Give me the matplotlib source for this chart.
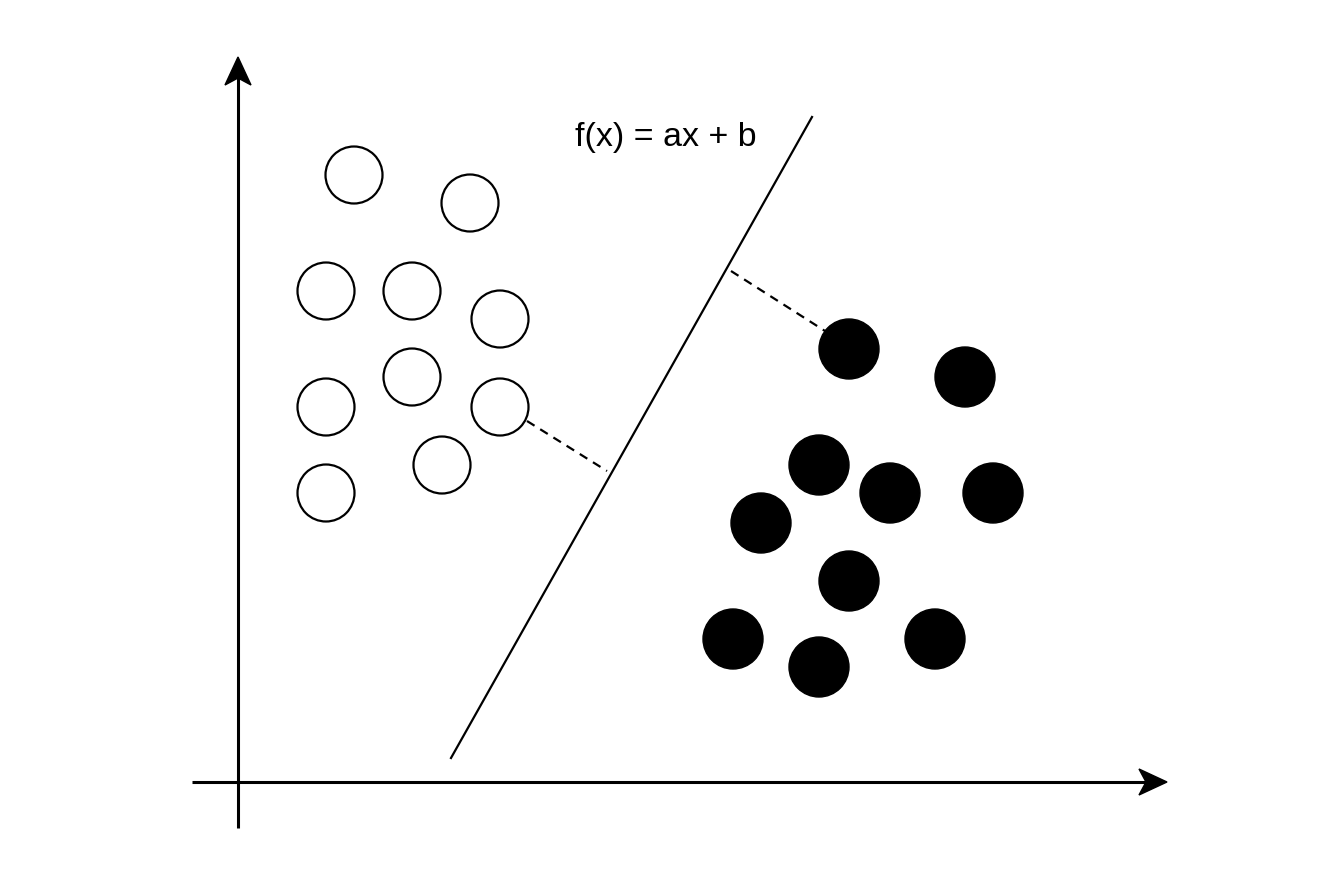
import matplotlib.pyplot as plt
from matplotlib.patches import Circle, Polygon
import numpy as np

# diagram coordinates (pixel-like, y grows downward)
open_x = [354, 470, 326, 412, 500, 412, 326, 500, 442, 326]
open_y = [175, 203, 291, 291, 319, 377, 407, 407, 465, 493]

filled_x = [849, 965, 819, 890, 993, 761, 849, 733, 935, 819]
filled_y = [349, 377, 465, 493, 493, 523, 581, 639, 639, 667]

# separating line f(x) = ax + b
line_x = [451, 812]
line_y = [758, 117]

# distances from the closest points to the line
dash_x = [[527, 607], [731, 825]]
dash_y = [[421, 471], [271, 331]]

label = "f(x) = ax + b"

W, H = 1318, 886


def arrow_head(ax, tip, direction, length=28, half_width=13, notch=7):
    d = np.array(direction, dtype=float)
    d /= np.linalg.norm(d)
    n = np.array([-d[1], d[0]])
    tip = np.array(tip, dtype=float)
    base = tip - d * length
    pts = [tip, base + n * half_width, tip - d * (length - notch), base - n * half_width]
    ax.add_patch(Polygon(pts, closed=True, facecolor="black", edgecolor="black", lw=1, zorder=5))


fig = plt.figure(figsize=(W / 100, H / 100), dpi=100)
ax = fig.add_axes([0, 0, 1, 1])
ax.set_xlim(0, W)
ax.set_ylim(H, 0)
ax.set_aspect("equal")
ax.axis("off")

# axes of the diagram
ax.plot([238, 238], [828, 75], color="black", lw=2.2, solid_capstyle="butt")
arrow_head(ax, (238, 57), (0, -1))
ax.plot([192, 1150], [782, 782], color="black", lw=2.2, solid_capstyle="butt")
arrow_head(ax, (1167, 782), (1, 0))

for x, y in zip(open_x, open_y):
    ax.add_patch(Circle((x, y), 28.5, facecolor="white", edgecolor="black", lw=1.6, zorder=3))
for x, y in zip(filled_x, filled_y):
    ax.add_patch(Circle((x, y), 30, facecolor="black", edgecolor="black", lw=1, zorder=3))

ax.plot(line_x, line_y, color="black", lw=1.6, zorder=2)
for xs, ys in zip(dash_x, dash_y):
    ax.plot(xs, ys, color="black", lw=1.6, dashes=(4, 3), zorder=2)

ax.text(666, 137, label, fontsize=24.5, family=["Liberation Sans", "DejaVu Sans"],
        ha="center", va="center")

fig.savefig("out.png", dpi=100)
